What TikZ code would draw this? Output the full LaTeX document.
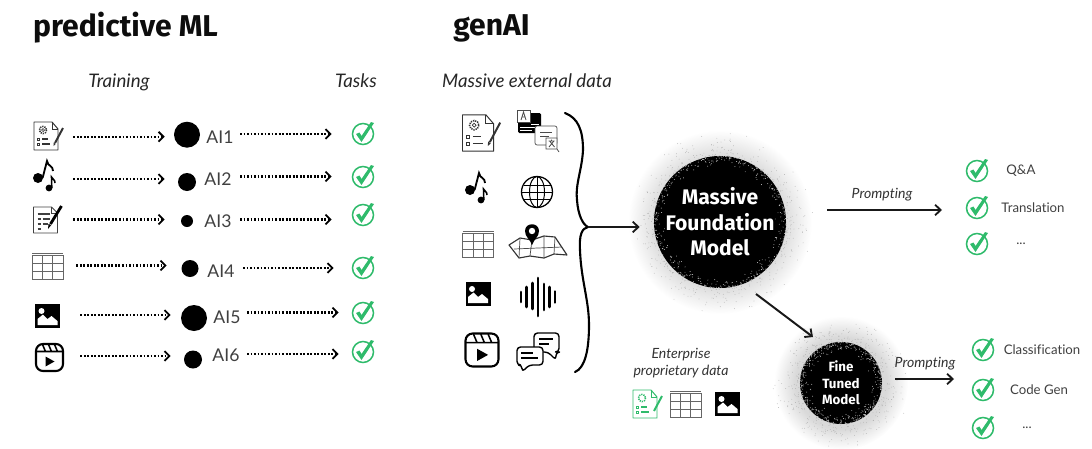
\documentclass[tikz,border=0pt]{standalone}
\usepackage{fontspec}
\setmainfont[Ligatures=NoCommon]{Lato}
\newfontfamily\headfont{Fira Sans}
\usepackage{xcolor}
\usepackage{tikz}
\usetikzlibrary{arrows.meta, positioning, calc}
\definecolor{tickgreen}{HTML}{2FBB6B}
\newcommand{\moretasks}{...}
\pgfdeclareradialshading{halofade}{\pgfpointorigin}{color(0bp)=(black!15); color(17bp)=(black!15); color(25bp)=(white); color(50bp)=(white)}
\newcommand{\fuzzball}[4]{%
  \pgfmathsetseed{#4}
  \shade[shading=halofade] (#1,#2) circle[radius=#3+26];
  \foreach \k in {1,...,500} {
    \pgfmathsetmacro\ang{rnd*360}
    \pgfmathsetmacro\rr{#3-1+30*rnd*rnd}
    \fill[black!32] (#1,#2) ++(\ang:\rr) circle[radius=0.4];
  }
  \fill[black] (#1,#2) circle[radius=#3];
  \foreach \k in {1,...,420} {
    \pgfmathsetmacro\ang{rnd*360}
    \pgfmathsetmacro\rr{#3-12*rnd*rnd}
    \fill[white!80!black] (#1,#2) ++(\ang:\rr) circle[radius=0.45];
  }
}
\begin{document}
\begin{tikzpicture}[
    x=0.025cm, y=-0.025cm,
    >={Straight Barb[length=3.5pt, width=7pt, line width=1.3pt]},
    heading/.style={font=\fontsize{21.4}{25}\headfont\bfseries, text=black!95, inner sep=0pt},
    column/.style={font=\fontsize{13.3}{16}\selectfont\itshape, text=black!85, inner sep=0pt},
    smallhead/.style={font=\fontsize{10}{11.5}\selectfont\itshape, text=black!80, inner sep=0pt, align=center},
    ailabel/.style={font=\fontsize{12.5}{14}\selectfont, text=black!75, inner sep=0pt},
    tasklabel/.style={font=\fontsize{9.4}{11}\selectfont, text=black!75, inner sep=0pt},
    modelbig/.style={circle, minimum size=3.3cm, inner sep=0pt, align=center, text=white,
                     font=\fontsize{15}{18.2}\headfont\bfseries},
    modelsmall/.style={circle, minimum size=2.05cm, inner sep=0pt, align=center, text=white,
                       font=\fontsize{9.5}{11.6}\headfont\bfseries},
    aidot/.style={circle, fill=black, inner sep=0pt},
    iconbox/.style={minimum width=1.15cm, minimum height=0.7cm, inner sep=0pt},
    tickbox/.style={circle, minimum size=0.55cm, inner sep=0pt},
    flow/.style={->, line width=1.6pt, dash pattern=on 1.3pt off 1.2pt},
    thrust/.style={-{Straight Barb[length=4pt, width=7.5pt, line width=1.3pt]}, line width=1.4pt, black!90},
    tickicon/.pic={
        \draw[tickgreen, line width=1.1pt] (0,0) circle[radius=10.5];
        \fill[tickgreen] (-7,0) -- (-3.5,-1.5) -- (-1.5,2) -- (8,-12) -- (11,-11) -- (-1.5,8) -- cycle;
    },
    docicon/.pic={
        \draw[line width=0.7pt, black!80, line join=round] (-15,-14) -- (3,-14) -- (9,-7) -- (9,14) -- (-15,14) -- cycle;
        \draw[line width=0.6pt, black!80] (3,-14) -- (3,-7) -- (9,-7);
        \draw[line width=1.1pt, black!80, dash pattern=on 0.9pt off 0.7pt] (-6,-6) circle[radius=3.6];
        \draw[line width=0.5pt, black!80] (-6,-6) circle[radius=1.5];
        \draw[line width=0.7pt, black!80] (-12,2) rectangle (-9.5,4.5) (-12,7) rectangle (-9.5,9.5);
        \draw[line width=0.8pt, black!80] (-7,3) -- (-1,3) (-7,8) -- (1,8);
        \draw[line width=1.4pt, black!80] (14,-8) -- (6,7);
        \fill[black!80] (6.7,8) -- (4.5,10) -- (4.7,6.5) -- cycle;
    },
    docgreen/.pic={
        \draw[line width=0.7pt, tickgreen, line join=round] (-15,-14) -- (3,-14) -- (9,-7) -- (9,14) -- (-15,14) -- cycle;
        \draw[line width=0.6pt, tickgreen] (3,-14) -- (3,-7) -- (9,-7);
        \draw[line width=1.1pt, tickgreen, dash pattern=on 0.9pt off 0.7pt] (-6,-6) circle[radius=3.6];
        \draw[line width=0.7pt, tickgreen] (-12,2) rectangle (-9.5,4.5) (-12,7) rectangle (-9.5,9.5);
        \draw[line width=0.8pt, tickgreen] (-7,3) -- (-1,3) (-7,8) -- (1,8);
        \draw[line width=1.4pt, tickgreen] (14,-8) -- (6,7);
    },
    musicicon/.pic={
        \fill (-6,2) circle[radius=5];
        \draw[line width=1.3pt] (-1.4,2) -- (3,-15) .. controls (4,-9) and (9,-11) .. (9,-5);
        \fill (5,12) circle[radius=3.4];
        \draw[line width=1.1pt] (7.8,12) -- (7.5,1) .. controls (8.5,4) and (11,3) .. (11,7);
    },
    noteicon/.pic={
        \draw[line width=0.7pt, black!75, line join=round] (-14,-13) -- (4,-13) -- (10,-7) -- (10,13) -- (-14,13) -- cycle;
        \draw[line width=0.6pt, black!75] (4,-13) -- (4,-7) -- (10,-7);
        \draw[line width=0.8pt, black!75] (-10,-6) -- (2,-6) (-10,-1) -- (-7,-1) (-5,-1) -- (2,-1) (-10,4) -- (-7,4) (-5,4) -- (0,4) (-10,9) -- (-7,9);
        \draw[line width=2pt] (14,-14) -- (3,4);
        \fill (3.8,5) -- (0.5,9) -- (1,4) -- cycle;
    },
    sheeticon/.pic={
        \draw[line width=0.5pt, black!60] (-15.5,-13) -- (15.5,-13);
        \draw[line width=0.5pt, black!60] (-15.5,-10.5) rectangle (15.5,13);
        \draw[line width=0.5pt, black!60] (-5,-10.5) -- (-5,13) (5,-10.5) -- (5,13)
            (-15.5,-3) -- (15.5,-3) (-15.5,5) -- (15.5,5);
    },
    photoicon/.pic={
        \fill (-12.5,-12) rectangle (12.5,12);
        \fill[white] (-6,-5) circle[radius=3];
        \fill[white] (-10,9) -- (-10,3) -- (-4.5,-1.5) -- (0,3) -- (4,0) -- (10,5) -- (10,9) -- cycle;
    },
    reelicon/.pic={
        \draw[line width=1.5pt, rounded corners=5] (-13.5,-13.5) rectangle (13.5,13.5);
        \draw[line width=1.1pt] (-13.5,-6) -- (13.5,-6) (-7,-13) -- (-4,-6) (-1,-13) -- (2,-6) (5,-13) -- (8,-6);
        \fill (-4,-1) -- (5,4) -- (-4,9) -- cycle;
    },
    translateicon/.pic={
        \fill[rounded corners=1] (-20,-18) rectangle (3,2);
        \draw[draw=black!70, fill=white, line width=0.5pt] (-21,-21) rectangle (-8,-9);
        \draw[line width=0.6pt, black!70] (-17,-11) -- (-14.5,-19) -- (-12,-11) (-16,-14) -- (-13,-14);
        \draw[white, line width=0.7pt] (-7,-7) -- (1,-7) (-18,-4) -- (-3,-4) (-18,-1) -- (-6,-1);
        \draw[draw=black!70, fill=white, line width=0.5pt, rounded corners=1.5] (-3,-5) rectangle (19,14);
        \draw[line width=0.6pt, black!70] (2,1) -- (14,1) (2,5) -- (11,5);
        \draw[draw=black!70, fill=white, line width=0.5pt] (8,7) rectangle (19,18) (19,18) -- (21,21);
        \draw[line width=0.6pt, black!70] (10.5,10) -- (16.5,10) (13.5,8.5) -- (13.5,10) (11,16) -- (15.5,10.5) (12,10.5) -- (16.5,16);
    },
    globeicon/.pic={
        \draw[line width=0.9pt] (0,0) circle[radius=15.5];
        \draw[line width=0.7pt] (0,0) ellipse[x radius=7.5, y radius=15.5];
        \draw[line width=0.7pt] (0,-15.5) -- (0,15.5) (-15.5,0) -- (15.5,0) (-13.5,-7) -- (13.5,-7) (-13.5,7) -- (13.5,7);
    },
    mapicon/.pic={
        \draw[draw=black!80, fill=white, line width=0.8pt, line join=round] (-29,3) -- (-18,-4) -- (-6,-2) -- (6,-6) -- (17,-5) -- (29,13) -- (16,12) -- (6,16) -- (-8,14) -- (-19,16) -- cycle;
        \draw[line width=0.5pt, black!70] (-18,-4) -- (-19,16) (-6,-2) -- (-8,14) (6,-6) -- (6,16) (17,-5) -- (16,12) (-24,7) -- (24,5);
        \fill (-6,3) .. controls (-8,-3) and (-13,-5) .. (-13,-11) .. controls (-13,-20) and (1,-20) .. (1,-11) .. controls (1,-5) and (-4,-3) .. (-6,3);
        \fill[white] (-6,-11) circle[radius=3.2];
    },
    waveicon/.pic={
        \draw[line width=1.9pt, line cap=round] (-17,-5) -- (-17,5) (-11.5,-10) -- (-11.5,10) (-5.5,-14) -- (-5.5,12) (0,-19) -- (0,19)
            (6,-13) -- (6,13) (11.5,-10) -- (11.5,10) (17,-5.5) -- (17,5.5);
    },
    chaticon/.pic={
        \draw[line width=1pt, rounded corners=2.5, line join=round] (-4,-19) -- (21,-19) -- (21,0) -- (18,0) -- (18,8) -- (10,0) -- (-4,0) -- cycle;
        \draw[line width=0.9pt] (1,-13) -- (15,-13) (1,-8) -- (11,-8);
        \draw[fill=white, line width=1pt, rounded corners=2.5, line join=round] (-21,-5) -- (5,-5) -- (5,13) -- (-9,13) -- (-16,20) -- (-16,13) -- (-21,13) -- cycle;
        \draw[line width=0.9pt] (-17,1) -- (-5,1) (-17,6) -- (0,6);
    }
]
\useasboundingbox (0,0) rectangle (1092,448);
\node[heading] (titlepred) at (125.5,28) {predictive ML};
\node[heading] (titlegen) at (491.5,28) {genAI};
\node[column] (training) at (119,82) {Training};
\node[column] (tasks) at (356,81) {Tasks};
\node[column] (external) at (527,81) {Massive external data};
\node[iconbox] (src1) at (50,136.7) {};
\node[iconbox] (src2) at (50,179) {};
\node[iconbox] (src3) at (50,219.5) {};
\node[iconbox] (src4) at (53,265.5) {};
\node[iconbox] (src5) at (57,315) {};
\node[iconbox] (src6) at (57,356) {};
\pic at (49,136) {docicon};
\pic at (44,176) {musicicon};
\pic at (47.5,220) {noteicon};
\pic at (47.5,266) {sheeticon};
\pic at (47.5,316) {photoicon};
\pic at (49.5,357.5) {reelicon};
\foreach \n/\g/\dx/\dy/\ds/\lx/\ly/\tx/\ty/\cy/\sh in {
    1/9/187/134.7/26/220/137/240/134/134/20,
    2/13/187/182/18/218/179/240/176.5/177/20,
    3/16/187/221/12/218/221/240/219.5/215/20,
    4/14.5/190/268.5/17/221/271/243/268/268/18,
    5/10/194/318/26/227/317/247/312.5/313/13,
    6/13/193/359.5/18/226/355/247/354/352/13} {
    \node[aidot, minimum size=\ds*0.025cm] (dot\n) at (\dx,\dy) {};
    \node[ailabel] (ai\n) at (\lx,\ly) {AI\n};
    \node[tickbox] (chk\n) at (363,\cy) {};
    \pic at (chk\n) {tickicon};
    \coordinate (tail\n) at (\tx,\ty);
    \draw[flow, shorten >=\g*0.711pt] (src\n.east) -- (src\n.east -| dot\n.west);
    \draw[flow, shorten >=\sh*0.711pt] (tail\n) -- (tail\n -| chk\n.west);
}
\pic[scale=1.3] at (482,133) {docicon};
\pic at (538,131) {translateicon};
\pic at (476,188) {musicicon};
\pic at (537,192) {globeicon};
\pic at (478,244) {sheeticon};
\pic at (538,242) {mapicon};
\pic at (478,294) {photoicon};
\pic at (538,297) {waveicon};
\pic[scale=1.22] at (482,350) {reelicon};
\pic at (538,352) {chaticon};
\coordinate (bracetip) at (588,227);
\draw[line width=1.5pt, line cap=round] (565,113) .. controls (578,118) and (583,130) .. (583,150)
    .. controls (582,170) and (575,185) .. (577,200) .. controls (578,215) and (583,225) .. (bracetip)
    .. controls (582,228) and (579,235) .. (580,250) .. controls (581,280) and (589,300) .. (589,325)
    .. controls (589,350) and (585,368) .. (575,372);
\fuzzball{720}{222}{66}{11}
\fuzzball{841}{383}{41}{23}
\node[modelbig] (found) at (720,222) {Massive\\Foundation\\Model};
\node[modelsmall] (fine) at (841,383) {Fine\\Tuned\\Model};
\draw[thrust, shorten >=14*0.711pt] (bracetip) -- (bracetip -| found.west);
\coordinate (promptend) at (942,210);
\coordinate (fineend) at (954,379);
\draw[thrust, shorten <=41*0.711pt] (found.east |- promptend) -- (promptend);
\draw[thrust, shorten <=13*0.711pt] (fine.east |- fineend) -- (fineend);
\draw[thrust] ($(found)+(36,72)$) -- ($(fine)+(-28,-46)$);
\node[smallhead] (promptone) at (882,195) {Prompting};
\node[smallhead] (prompttwo) at (925,364) {Prompting};
\node[smallhead] (enterprise) at (681,363) {Enterprise\\proprietary data};
\pic at (648,404) {docgreen};
\pic at (685.5,404) {sheeticon};
\pic at (727.5,404) {photoicon};
\foreach \n/\cx/\cy/\lx/\lbl in {
    a/977/171/1021/Q\&A,
    b/977/208/1033/Translation,
    c/977/244/1021/\moretasks,
    d/983/350/1042/Classification,
    e/983/390/1039/Code Gen,
    f/983/428/1027/\moretasks} {
    \node[tickbox] (chk\n) at (\cx,\cy) {};
    \pic at (chk\n) {tickicon};
    \node[tasklabel] (task\n) at (\lx,\cy) {\lbl};
}
\end{tikzpicture}
\end{document}
